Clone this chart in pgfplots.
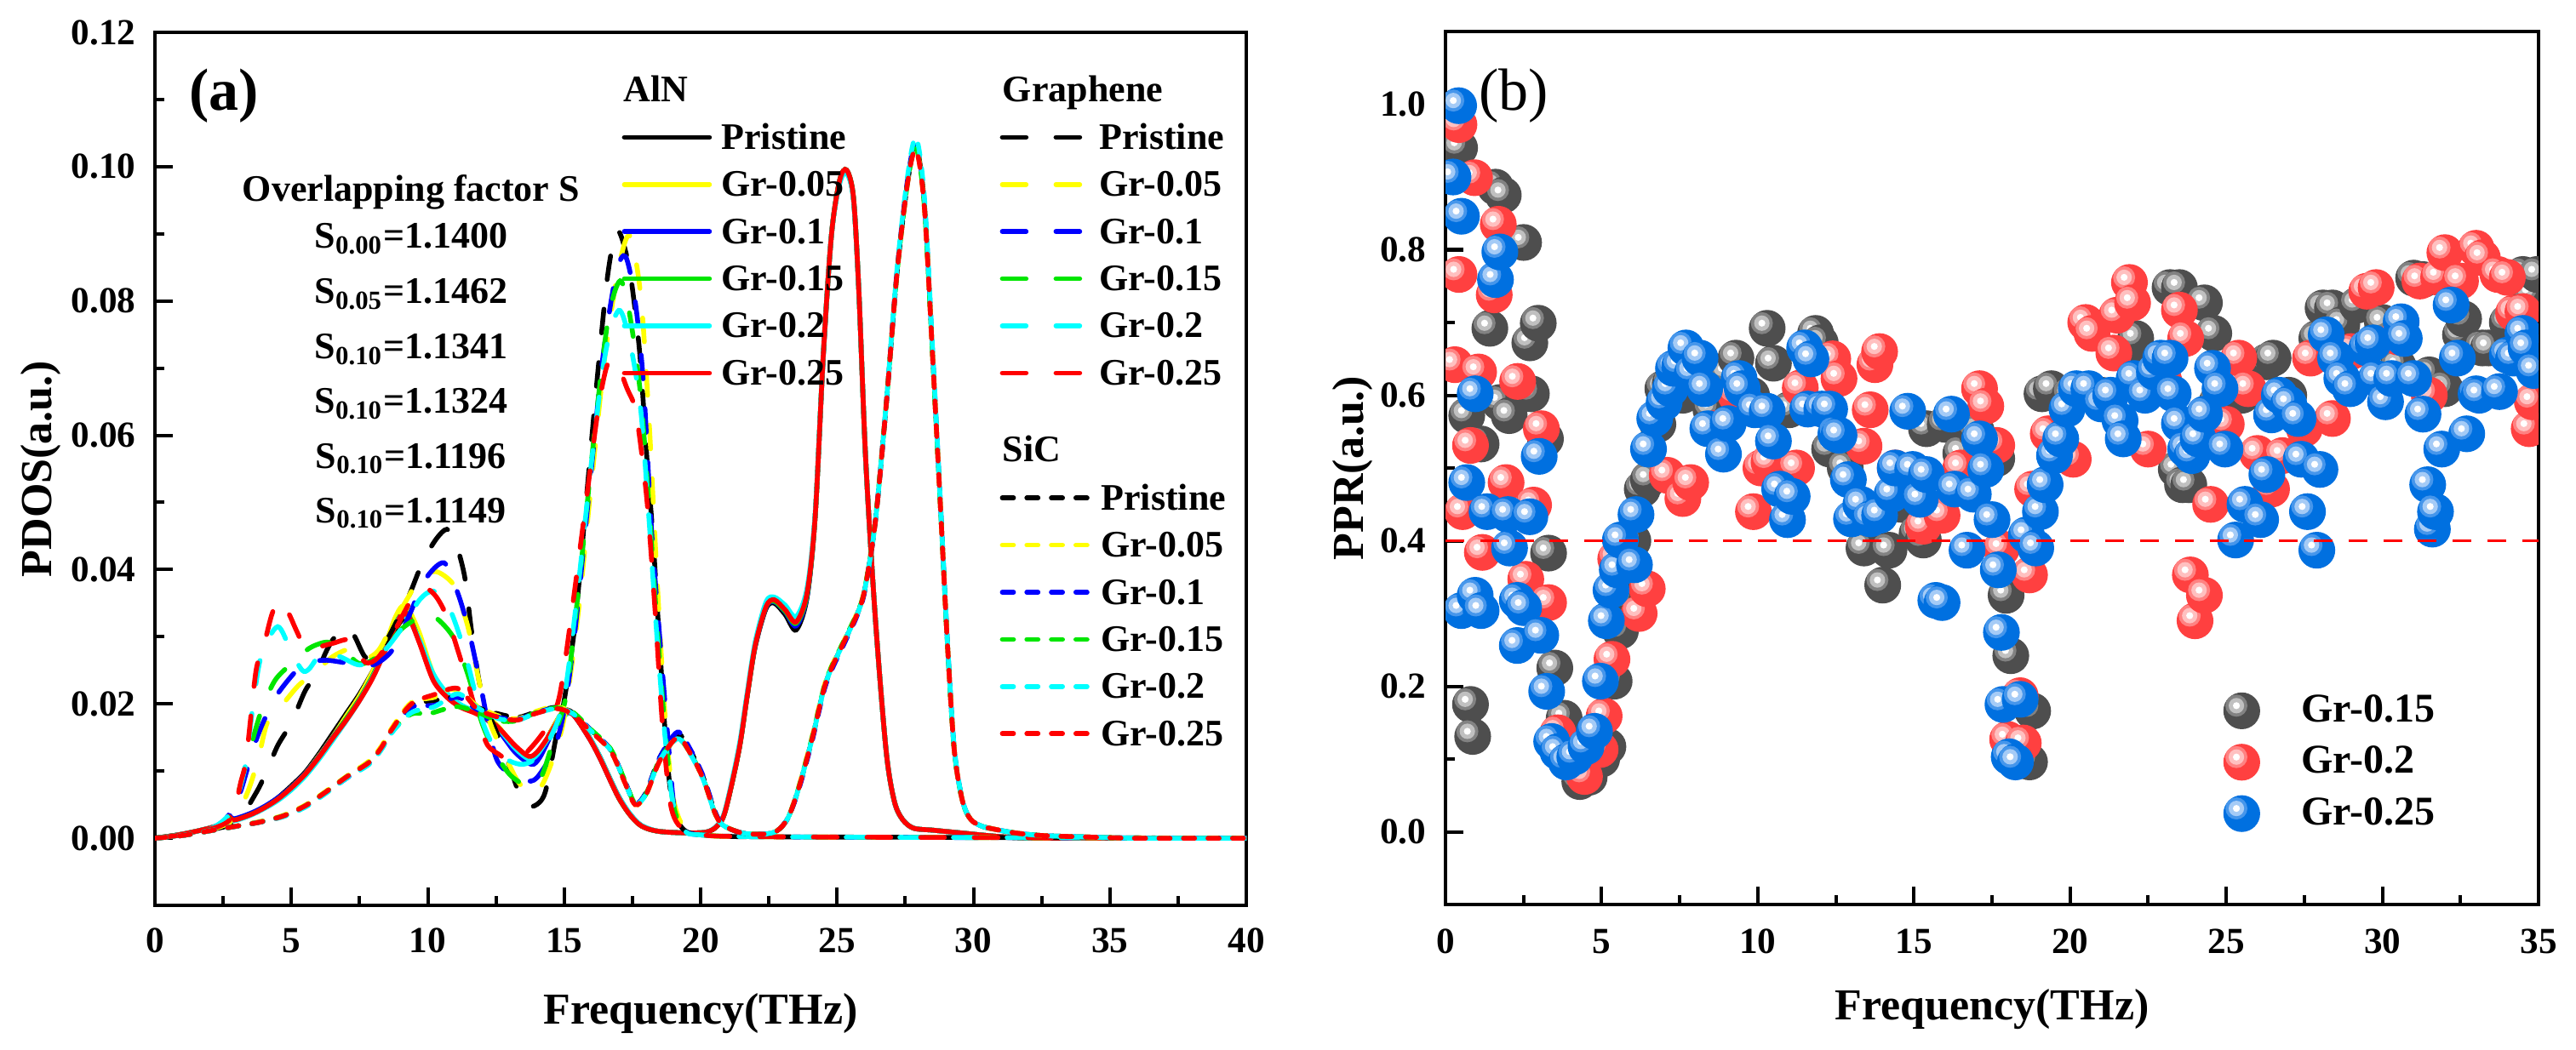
\documentclass[border=0pt]{standalone}
\usepackage{fontspec}
\setmainfont{Liberation Serif}
\usepackage{pgfplots}
\pgfplotsset{compat=1.18}
\usetikzlibrary{plotmarks}
\definecolor{cYel}{RGB}{255,255,0}
\definecolor{cBlu}{RGB}{0,0,255}
\definecolor{cGrn}{RGB}{0,230,0}
\definecolor{cCya}{RGB}{0,255,255}
\definecolor{cRed}{RGB}{255,0,0}
\definecolor{bG}{RGB}{78,78,78}\definecolor{bGm}{RGB}{130,130,130}\definecolor{bGl}{RGB}{192,192,192}
\definecolor{bR}{RGB}{255,64,64}\definecolor{bRm}{RGB}{255,130,130}\definecolor{bRl}{RGB}{255,192,192}
\definecolor{bB}{RGB}{0,112,224}\definecolor{bBm}{RGB}{70,150,235}\definecolor{bBl}{RGB}{165,203,246}
\pgfdeclareplotmark{ballG}{%
 \pgfsetfillcolor{bG}\pgfpathcircle{\pgfpointorigin}{\pgfplotmarksize}\pgfusepathqfill
 \pgfsetfillcolor{bGm}\pgfpathcircle{\pgfpoint{-0.29\pgfplotmarksize}{0.28\pgfplotmarksize}}{0.6\pgfplotmarksize}\pgfusepathqfill
 \pgfsetfillcolor{bGl}\pgfpathcircle{\pgfpoint{-0.29\pgfplotmarksize}{0.28\pgfplotmarksize}}{0.42\pgfplotmarksize}\pgfusepathqfill
 \pgfsetfillcolor{white}\pgfpathcircle{\pgfpoint{-0.29\pgfplotmarksize}{0.28\pgfplotmarksize}}{0.19\pgfplotmarksize}\pgfusepathqfill}
\pgfdeclareplotmark{ballR}{%
 \pgfsetfillcolor{bR}\pgfpathcircle{\pgfpointorigin}{\pgfplotmarksize}\pgfusepathqfill
 \pgfsetfillcolor{bRm}\pgfpathcircle{\pgfpoint{-0.29\pgfplotmarksize}{0.28\pgfplotmarksize}}{0.6\pgfplotmarksize}\pgfusepathqfill
 \pgfsetfillcolor{bRl}\pgfpathcircle{\pgfpoint{-0.29\pgfplotmarksize}{0.28\pgfplotmarksize}}{0.42\pgfplotmarksize}\pgfusepathqfill
 \pgfsetfillcolor{white}\pgfpathcircle{\pgfpoint{-0.29\pgfplotmarksize}{0.28\pgfplotmarksize}}{0.19\pgfplotmarksize}\pgfusepathqfill}
\pgfdeclareplotmark{ballB}{%
 \pgfsetfillcolor{bB}\pgfpathcircle{\pgfpointorigin}{\pgfplotmarksize}\pgfusepathqfill
 \pgfsetfillcolor{bBm}\pgfpathcircle{\pgfpoint{-0.29\pgfplotmarksize}{0.28\pgfplotmarksize}}{0.6\pgfplotmarksize}\pgfusepathqfill
 \pgfsetfillcolor{bBl}\pgfpathcircle{\pgfpoint{-0.29\pgfplotmarksize}{0.28\pgfplotmarksize}}{0.42\pgfplotmarksize}\pgfusepathqfill
 \pgfsetfillcolor{white}\pgfpathcircle{\pgfpoint{-0.29\pgfplotmarksize}{0.28\pgfplotmarksize}}{0.19\pgfplotmarksize}\pgfusepathqfill}
\newcommand{\fsL}{\fontsize{11}{13}\selectfont\bfseries}
\newcommand{\fsT}{\fontsize{10.8}{12}\selectfont\bfseries}
\newcommand{\fsX}{\fontsize{13}{15}\selectfont\bfseries}
\pgfplotsset{
 myframe/.style={scale only axis, anchor=south west,
  axis line style={line width=1pt}, every tick/.style={black, line width=1pt},
  tick align=inside, major tick length=5.2pt, minor tick length=2.7pt,
  xtick pos=bottom, ytick pos=left,
  tick label style={font=\fsT},
  /pgf/number format/assume math mode=true,
  xticklabel style={anchor=north, inner sep=0pt, yshift=-6.6pt},
  yticklabel style={anchor=east, inner sep=0pt, xshift=-5.5pt},
  label style={font=\fsX},
  scaled ticks=false},
 aln/.style={line width=1.4pt, smooth, tension=0.5},
 gra/.style={line width=1.4pt, smooth, tension=0.5, dash pattern=on 7pt off 8.75pt, line cap=round},
 sic/.style={line width=1.4pt, smooth, tension=0.5, dash pattern=on 3.3pt off 3.9pt, line cap=round},
 legA/.style={draw=none, fill=none, inner sep=0pt, row sep=2.85pt, column sep=0pt, font=\fsL,
  nodes={inner sep=0pt, text height=9pt, text depth=2pt}},
 ballleg/.style={legend image code/.code={\draw[##1] plot coordinates {(0pt,0pt)}; \path[draw=none, fill=none] (-5.4pt,-5.4pt) rectangle (17.5pt,5.4pt);}},
}
\begin{document}
\begin{tikzpicture}
\path[use as bounding box] (0,0) rectangle (756.5pt,308.25pt);
% ---------------- panel (a) ----------------
\begin{axis}[myframe, at={(45.5pt,42.25pt)}, width=320.5pt, height=256.5pt,
 xmin=0, xmax=40, ymin=-0.01, ymax=0.12,
 xtick={0,5,10,15,20,25,30,35,40}, minor xtick={2.5,7.5,12.5,17.5,22.5,27.5,32.5,37.5},
 ytick={0,0.02,0.04,0.06,0.08,0.1,0.12}, minor ytick={-0.01,0.01,0.03,0.05,0.07,0.09,0.11},
 yticklabel style={/pgf/number format/.cd, fixed, fixed zerofill, precision=2},
 xlabel={Frequency(THz)}, ylabel={PDOS(a.u.)},
 xlabel style={at={(axis description cs:0.5,-0.1238)}, anchor=center},
 ylabel style={at={(axis description cs:-0.1045,0.5)}, anchor=center}]
% AlN (solid)
\addplot[aln, black] coordinates {(0,0) (1,0.0006) (2,0.0015) (2.5,0.0022) (2.7,0.0033) (2.9,0.0027) (3.5,0.0035) (4,0.0046) (4.5,0.006) (5,0.0078) (5.5,0.0098) (6,0.0125) (6.5,0.0155) (7,0.0185) (7.5,0.0215) (8,0.025) (8.5,0.0288) (8.8,0.031) (9.05,0.0325) (9.3,0.0333) (9.6,0.031) (10.0,0.026) (10.5,0.022) (11.2,0.0197) (11.8,0.0187) (12.5,0.0168) (13.2,0.0135) (13.8,0.0115) (14.1,0.0125) (14.5,0.0158) (15.0,0.019) (15.4,0.0183) (15.9,0.0152) (16.3,0.0122) (16.7,0.0087) (17.0,0.0062) (17.35,0.0039) (17.7,0.0023) (18.0,0.0015) (18.5,0.001) (19.4,0.0008) (20.2,0.0009) (20.6,0.0018) (20.9,0.004) (21.4,0.013) (21.7,0.021) (22.0,0.0285) (22.4,0.0342) (22.7,0.035) (23.1,0.0333) (23.5,0.031) (23.9,0.0358) (24.2,0.048) (24.5,0.072) (24.8,0.09) (25.1,0.098) (25.35,0.0993) (25.6,0.0953) (25.8,0.0813) (26.05,0.0563) (26.4,0.033) (26.8,0.013) (27.1,0.0055) (27.4,0.0028) (27.8,0.0015) (28.5,0.0012) (29.5,0.0008) (30.5,0.0004) (31.5,0.0001) (33,0) (40,0)};
\addplot[aln, cYel] coordinates {(0,0) (1,0.0006) (2,0.0015) (2.5,0.0022) (2.7,0.0032) (2.9,0.0027) (3.5,0.0035) (4,0.0045) (4.5,0.0058) (5,0.0076) (5.5,0.0096) (6,0.0122) (6.5,0.015) (7,0.0181) (7.5,0.0212) (8,0.025) (8.5,0.0295) (8.8,0.0328) (9.05,0.0345) (9.3,0.034) (9.7,0.0305) (10.2,0.0245) (10.7,0.0215) (11.2,0.0198) (11.8,0.0188) (12.5,0.017) (13.2,0.0135) (13.7,0.0118) (14.0,0.0122) (14.4,0.015) (14.9,0.0185) (15.3,0.0185) (15.9,0.015) (16.3,0.012) (16.7,0.0085) (17.0,0.006) (17.35,0.0038) (17.7,0.0022) (18.0,0.0015) (18.5,0.001) (19.4,0.0008) (20.2,0.0009) (20.6,0.0018) (20.9,0.004) (21.4,0.013) (21.7,0.021) (22.0,0.0287) (22.4,0.0345) (22.7,0.0354) (23.1,0.034) (23.5,0.0322) (23.9,0.0365) (24.2,0.048) (24.5,0.0723) (24.8,0.09) (25.1,0.098) (25.35,0.0995) (25.6,0.0955) (25.8,0.0815) (26.05,0.0565) (26.4,0.033) (26.8,0.013) (27.1,0.0055) (27.4,0.0028) (27.8,0.0015) (28.5,0.0012) (29.5,0.0008) (30.5,0.0004) (31.5,0.0001) (33,0) (40,0)};
\addplot[aln, cBlu] coordinates {(0,0) (1,0.0006) (2,0.0015) (2.5,0.0023) (2.7,0.0034) (2.9,0.0029) (3.5,0.0037) (4,0.0047) (4.5,0.006) (5,0.0076) (5.5,0.0096) (6,0.0121) (6.5,0.0149) (7,0.0177) (7.5,0.0207) (8,0.0243) (8.5,0.0287) (8.8,0.0316) (9.05,0.0331) (9.3,0.033) (9.7,0.0292) (10.2,0.0237) (10.7,0.0211) (11.2,0.0196) (11.8,0.0186) (12.5,0.0165) (13.2,0.0128) (13.8,0.011) (14.1,0.012) (14.5,0.0152) (14.9,0.0182) (15.3,0.0185) (15.9,0.015) (16.3,0.012) (16.7,0.0085) (17.0,0.006) (17.35,0.0038) (17.7,0.0022) (18.0,0.0015) (18.5,0.001) (19.4,0.0008) (20.2,0.0009) (20.6,0.0018) (20.9,0.004) (21.4,0.013) (21.7,0.021) (22.0,0.0286) (22.4,0.0344) (22.7,0.0352) (23.1,0.0337) (23.5,0.0316) (23.9,0.036) (24.2,0.048) (24.5,0.0722) (24.8,0.09) (25.1,0.098) (25.35,0.0995) (25.6,0.0955) (25.8,0.0815) (26.05,0.0565) (26.4,0.033) (26.8,0.013) (27.1,0.0055) (27.4,0.0028) (27.8,0.0015) (28.5,0.0012) (29.5,0.0008) (30.5,0.0004) (31.5,0.0001) (33,0) (40,0)};
\addplot[aln, cGrn] coordinates {(0,0) (1,0.0006) (2,0.0015) (2.5,0.0022) (2.7,0.0032) (2.9,0.0027) (3.5,0.0035) (4,0.0045) (4.5,0.0058) (5,0.0075) (5.5,0.0095) (6,0.012) (6.5,0.0148) (7,0.0177) (7.5,0.0207) (8,0.0243) (8.5,0.0288) (8.8,0.0318) (9.05,0.0334) (9.3,0.0332) (9.7,0.0293) (10.2,0.0237) (10.7,0.0211) (11.2,0.0196) (11.8,0.0186) (12.5,0.0168) (13.2,0.0136) (13.7,0.012) (14.0,0.0126) (14.4,0.0148) (14.9,0.0178) (15.3,0.0186) (15.9,0.0151) (16.3,0.0121) (16.7,0.0086) (17.0,0.006) (17.35,0.0038) (17.7,0.0022) (18.0,0.0015) (18.5,0.001) (19.4,0.0008) (20.2,0.0009) (20.6,0.0018) (20.9,0.004) (21.4,0.013) (21.7,0.021) (22.0,0.0287) (22.4,0.0345) (22.7,0.0353) (23.1,0.0338) (23.5,0.032) (23.9,0.0362) (24.2,0.048) (24.5,0.0723) (24.8,0.09) (25.1,0.098) (25.35,0.0995) (25.6,0.0955) (25.8,0.0815) (26.05,0.0565) (26.4,0.033) (26.8,0.013) (27.1,0.0055) (27.4,0.0028) (27.8,0.0015) (28.5,0.0012) (29.5,0.0008) (30.5,0.0004) (31.5,0.0001) (33,0) (40,0)};
\addplot[aln, cCya] coordinates {(0,0) (1,0.0006) (2,0.0015) (2.5,0.0022) (2.7,0.0031) (2.9,0.0026) (3.5,0.0034) (4,0.0044) (4.5,0.0056) (5,0.0072) (5.5,0.0092) (6,0.0117) (6.5,0.0145) (7,0.0174) (7.5,0.0205) (8,0.0241) (8.5,0.0286) (8.8,0.0316) (9.0,0.033) (9.3,0.0326) (9.7,0.0295) (10.2,0.0245) (10.7,0.0216) (11.2,0.0199) (11.8,0.0187) (12.5,0.0167) (13.2,0.0134) (13.7,0.0118) (14.0,0.0124) (14.4,0.0148) (14.9,0.0178) (15.3,0.0186) (15.9,0.0152) (16.3,0.0122) (16.7,0.0087) (17.0,0.0062) (17.35,0.004) (17.7,0.0023) (18.0,0.0016) (18.5,0.001) (19.4,0.0008) (20.2,0.0009) (20.6,0.0019) (20.9,0.0042) (21.4,0.0135) (21.7,0.0215) (22.0,0.0292) (22.4,0.0352) (22.7,0.0359) (23.1,0.0347) (23.5,0.033) (23.9,0.0372) (24.2,0.0485) (24.5,0.0725) (24.8,0.09) (25.1,0.0975) (25.35,0.099) (25.6,0.0952) (25.8,0.0815) (26.05,0.0565) (26.4,0.033) (26.8,0.013) (27.1,0.0055) (27.4,0.0028) (27.8,0.0015) (28.5,0.0012) (29.5,0.0008) (30.5,0.0004) (31.5,0.0001) (33,0) (40,0)};
\addplot[aln, cRed] coordinates {(0,0) (1,0.0006) (2,0.0015) (2.5,0.0022) (2.7,0.0032) (2.9,0.0027) (3.5,0.0035) (4,0.0045) (4.5,0.0058) (5,0.0075) (5.5,0.0095) (6,0.012) (6.5,0.0148) (7,0.0175) (7.5,0.0205) (8,0.024) (8.5,0.0285) (8.8,0.0315) (9.05,0.0333) (9.3,0.033) (9.7,0.029) (10.2,0.0235) (10.7,0.021) (11.2,0.0195) (11.8,0.0185) (12.5,0.0168) (13.2,0.0138) (13.7,0.0122) (14.0,0.0128) (14.4,0.015) (14.9,0.0182) (15.3,0.0185) (15.9,0.015) (16.3,0.012) (16.7,0.0085) (17.0,0.006) (17.35,0.0038) (17.7,0.0022) (18.0,0.0015) (18.5,0.001) (19.4,0.0008) (20.2,0.0009) (20.6,0.0018) (20.9,0.004) (21.4,0.013) (21.7,0.021) (22.0,0.0287) (22.4,0.0345) (22.7,0.0355) (23.1,0.034) (23.5,0.0322) (23.9,0.0365) (24.2,0.048) (24.5,0.0723) (24.8,0.09) (25.1,0.098) (25.35,0.0995) (25.6,0.0955) (25.8,0.0815) (26.05,0.0565) (26.4,0.033) (26.8,0.013) (27.1,0.0055) (27.4,0.0028) (27.8,0.0015) (28.5,0.0012) (29.5,0.0008) (30.5,0.0004) (31.5,0.0001) (33,0) (40,0)};
% Graphene (long dash)
\addplot[gra, black] coordinates {(0,0) (1,0.0005) (2,0.0012) (3,0.0025) (3.7,0.0067) (4.1,0.01) (4.5,0.0138) (5,0.0172) (5.5,0.0219) (5.9,0.0244) (6.3,0.028) (6.6,0.03) (7.0,0.0314) (7.3,0.0302) (7.7,0.027) (8.1,0.0268) (8.7,0.031) (9.3,0.036) (9.8,0.041) (10.3,0.0445) (10.7,0.046) (11.0,0.0443) (11.35,0.039) (11.6,0.031) (11.9,0.023) (12.2,0.019) (12.7,0.014) (13.1,0.0095) (13.5,0.0052) (13.9,0.0048) (14.3,0.0068) (14.7,0.015) (15.0,0.0205) (15.4,0.032) (15.8,0.05) (16.2,0.068) (16.6,0.084) (16.95,0.0905) (17.35,0.0857) (17.6,0.0786) (17.8,0.0707) (18.05,0.0555) (18.25,0.045) (18.5,0.0287) (18.75,0.013) (19.0,0.0043) (19.4,0.0012) (20,0.0005) (21,0.0003) (23,0.0002) (40,0)};
\addplot[gra, cYel] coordinates {(0,0) (1,0.0005) (2,0.0012) (2.8,0.0025) (3.2,0.005) (3.5,0.008) (3.8,0.012) (4.1,0.017) (4.5,0.019) (5.25,0.0227) (5.8,0.0244) (6.5,0.027) (7.2,0.0282) (7.7,0.0268) (8.2,0.028) (8.8,0.0325) (9.3,0.036) (9.7,0.0387) (10.3,0.0397) (10.9,0.038) (11.2,0.035) (11.5,0.031) (11.9,0.023) (12.3,0.017) (12.8,0.0125) (13.3,0.0085) (13.8,0.0065) (14.2,0.008) (14.6,0.012) (15.0,0.018) (15.5,0.033) (16.0,0.053) (16.5,0.072) (17.0,0.085) (17.4,0.0897) (17.8,0.081) (18.1,0.063) (18.4,0.039) (18.7,0.018) (19.0,0.006) (19.4,0.0015) (20,0.0005) (23,0.0002) (40,0)};
\addplot[gra, cBlu] coordinates {(0,0) (1,0.0005) (2,0.0013) (2.7,0.0028) (3.1,0.0065) (3.4,0.0105) (3.7,0.0145) (4.05,0.018) (4.5,0.0215) (5.2,0.025) (5.7,0.0262) (6.3,0.0265) (7.2,0.026) (8.0,0.0258) (8.7,0.028) (9.3,0.033) (9.9,0.0385) (10.6,0.041) (11.1,0.0365) (11.5,0.031) (11.9,0.0235) (12.5,0.012) (13.2,0.0092) (13.6,0.0085) (14.0,0.009) (14.6,0.013) (15.0,0.019) (15.4,0.031) (15.9,0.051) (16.4,0.071) (16.9,0.084) (17.25,0.0866) (17.6,0.08) (17.9,0.068) (18.2,0.046) (18.5,0.03) (18.8,0.015) (19.05,0.004) (19.4,0.0012) (20,0.0005) (23,0.0002) (40,0)};
\addplot[gra, cGrn] coordinates {(0,0) (1,0.0005) (2,0.0013) (2.7,0.003) (3.0,0.006) (3.4,0.012) (3.9,0.019) (4.4,0.0235) (5.0,0.026) (5.5,0.0278) (5.8,0.0286) (6.3,0.0292) (6.8,0.0285) (7.5,0.026) (8.2,0.0272) (9.0,0.031) (9.5,0.0325) (9.85,0.0335) (10.4,0.0325) (11.0,0.0295) (11.5,0.024) (12.0,0.017) (12.5,0.0125) (13.0,0.0095) (13.5,0.008) (13.8,0.0078) (14.2,0.0095) (14.7,0.016) (15.1,0.022) (15.6,0.04) (16.1,0.06) (16.6,0.077) (17.05,0.083) (17.4,0.078) (17.8,0.066) (18.1,0.05) (18.4,0.032) (18.7,0.016) (19.0,0.005) (19.4,0.0012) (20,0.0005) (23,0.0002) (40,0)};
\addplot[gra, cCya] coordinates {(0,0) (1,0.0005) (2,0.0013) (2.8,0.004) (3.3,0.0105) (3.6,0.02) (3.9,0.0272) (4.5,0.0315) (5.0,0.0277) (5.4,0.025) (5.65,0.0252) (6.15,0.0277) (6.8,0.027) (7.5,0.0258) (8.2,0.027) (9.0,0.031) (9.7,0.0355) (10.2,0.0368) (10.7,0.035) (11.1,0.031) (11.5,0.0255) (12.0,0.0175) (12.5,0.013) (13.0,0.0115) (13.5,0.011) (14.0,0.012) (14.5,0.015) (15.0,0.021) (15.5,0.037) (16.0,0.056) (16.5,0.072) (17.0,0.0786) (17.4,0.074) (17.8,0.064) (18.1,0.048) (18.4,0.03) (18.7,0.015) (19.0,0.005) (19.4,0.0012) (20,0.0005) (23,0.0002) (40,0)};
\addplot[gra, cRed] coordinates {(0,0) (1,0.0005) (2,0.0013) (2.8,0.003) (3.15,0.0084) (3.35,0.012) (3.7,0.0248) (3.95,0.028) (4.3,0.0335) (4.6,0.0353) (4.9,0.0335) (5.2,0.0308) (5.5,0.0285) (6.0,0.0285) (6.5,0.029) (7.2,0.0295) (7.7,0.0262) (8.2,0.027) (8.8,0.031) (9.4,0.0355) (9.9,0.0372) (10.3,0.036) (10.7,0.033) (11.1,0.028) (11.5,0.0227) (11.9,0.017) (12.2,0.0138) (12.6,0.0125) (12.9,0.0118) (13.4,0.012) (14.0,0.0145) (14.5,0.0175) (14.85,0.0216) (15.25,0.0328) (15.8,0.05) (16.25,0.064) (16.6,0.0707) (16.95,0.0705) (17.3,0.067) (17.6,0.064) (17.85,0.057) (18.07,0.0486) (18.35,0.0328) (18.6,0.017) (18.9,0.005) (19.3,0.0015) (20,0.0005) (23,0.0002) (40,0)};
% SiC (short dash)
\addplot[sic, black] coordinates {(0,0) (1,0.0004) (2,0.0011) (3,0.0018) (3.85,0.0024) (4.7,0.0033) (5.5,0.0048) (6.2,0.0067) (7.05,0.0092) (7.85,0.0113) (8.3,0.0135) (8.7,0.0163) (9.4,0.0198) (10.25,0.0205) (11.1,0.021) (11.8,0.0195) (12.6,0.0185) (13.3,0.018) (13.9,0.0187) (14.7,0.0195) (15.3,0.0187) (15.95,0.0162) (16.7,0.0132) (17.2,0.0087) (17.6,0.0052) (18.0,0.0068) (18.5,0.012) (19.15,0.0155) (19.6,0.0132) (20.1,0.009) (20.5,0.0042) (20.8,0.002) (21.5,0.0008) (22.3,0.0006) (22.8,0.0011) (23.2,0.003) (23.6,0.0075) (24.1,0.015) (24.6,0.0233) (25.3,0.0296) (25.7,0.033) (26.0,0.0367) (26.4,0.047) (26.8,0.0644) (27.2,0.0842) (27.6,0.098) (27.9,0.103) (28.2,0.0945) (28.5,0.072) (28.8,0.0486) (29.05,0.0287) (29.3,0.013) (29.6,0.0055) (29.9,0.0028) (30.3,0.0018) (30.7,0.0014) (31.5,0.0008) (32.5,0.0004) (34,0.0002) (36,0) (40,0)};
\addplot[sic, cYel] coordinates {(0,0) (1,0.0004) (2,0.0011) (3,0.0018) (3.85,0.0025) (4.7,0.0034) (5.5,0.0049) (6.2,0.0068) (7.05,0.0093) (7.85,0.0115) (8.3,0.0137) (8.7,0.0165) (9.4,0.0202) (10.25,0.021) (10.8,0.0222) (11.3,0.0215) (11.8,0.0197) (12.6,0.0182) (13.3,0.0178) (13.9,0.0188) (14.7,0.0196) (15.3,0.0186) (15.95,0.016) (16.7,0.013) (17.2,0.0085) (17.6,0.005) (18.0,0.0065) (18.5,0.0115) (19.15,0.015) (19.6,0.0128) (20.1,0.0088) (20.5,0.004) (20.8,0.002) (21.5,0.0008) (22.3,0.0006) (22.8,0.0011) (23.2,0.003) (23.6,0.0077) (24.1,0.0153) (24.6,0.0236) (25.3,0.0298) (25.7,0.0332) (26.0,0.0368) (26.4,0.047) (26.8,0.0644) (27.2,0.0842) (27.6,0.098) (27.9,0.1027) (28.2,0.094) (28.5,0.072) (28.8,0.0486) (29.05,0.0287) (29.3,0.013) (29.6,0.0055) (29.9,0.0028) (30.3,0.0018) (30.7,0.0014) (31.5,0.0008) (32.5,0.0004) (34,0.0002) (36,0) (40,0)};
\addplot[sic, cBlu] coordinates {(0,0) (1,0.0004) (2,0.0011) (3,0.0018) (3.85,0.0024) (4.7,0.0033) (5.5,0.0047) (6.2,0.0066) (7.05,0.009) (7.85,0.0111) (8.3,0.0133) (8.7,0.016) (9.4,0.0195) (10.25,0.0198) (11.1,0.021) (11.8,0.0192) (12.6,0.018) (13.3,0.0177) (13.9,0.0186) (14.7,0.0194) (15.3,0.0186) (15.95,0.0162) (16.7,0.0132) (17.2,0.0087) (17.6,0.0052) (18.0,0.0068) (18.5,0.012) (19.15,0.0158) (19.6,0.0134) (20.1,0.0092) (20.5,0.0043) (20.8,0.002) (21.5,0.0008) (22.3,0.0006) (22.8,0.0011) (23.2,0.003) (23.6,0.0073) (24.1,0.0147) (24.6,0.023) (25.3,0.0293) (25.7,0.0328) (26.0,0.0365) (26.4,0.047) (26.8,0.0644) (27.2,0.0845) (27.6,0.0985) (27.9,0.1035) (28.2,0.0948) (28.5,0.0725) (28.8,0.049) (29.05,0.029) (29.3,0.0132) (29.6,0.0056) (29.9,0.0028) (30.3,0.0018) (30.7,0.0014) (31.5,0.0008) (32.5,0.0004) (34,0.0002) (36,0) (40,0)};
\addplot[sic, cGrn] coordinates {(0,0) (1,0.0004) (2,0.0011) (3,0.0018) (3.85,0.0024) (4.7,0.0033) (5.5,0.0048) (6.2,0.0067) (7.05,0.0092) (7.85,0.0113) (8.3,0.0134) (8.7,0.016) (9.4,0.0185) (10.0,0.0185) (10.6,0.0192) (11.1,0.0196) (11.8,0.0188) (12.6,0.0175) (13.3,0.0175) (13.9,0.0186) (14.7,0.0194) (15.3,0.0188) (15.95,0.0163) (16.7,0.0133) (17.2,0.0088) (17.6,0.0052) (18.0,0.0066) (18.5,0.0117) (19.15,0.0148) (19.6,0.0128) (20.1,0.0088) (20.5,0.004) (20.8,0.002) (21.5,0.0008) (22.3,0.0006) (22.8,0.0011) (23.2,0.003) (23.6,0.0076) (24.1,0.0152) (24.6,0.0235) (25.3,0.0298) (25.7,0.0332) (26.0,0.0368) (26.4,0.0472) (26.8,0.0645) (27.2,0.0842) (27.6,0.098) (27.9,0.1028) (28.2,0.0942) (28.5,0.072) (28.8,0.0486) (29.05,0.0287) (29.3,0.013) (29.6,0.0055) (29.9,0.0028) (30.3,0.0018) (30.7,0.0014) (31.5,0.0008) (32.5,0.0004) (34,0.0002) (36,0) (40,0)};
\addplot[sic, cCya] coordinates {(0,0) (1,0.0004) (2,0.0011) (3,0.0018) (3.85,0.0024) (4.7,0.0032) (5.5,0.0046) (6.2,0.0065) (7.05,0.009) (7.85,0.011) (8.3,0.0132) (8.7,0.0158) (9.4,0.0187) (10.25,0.0196) (11.1,0.0215) (11.8,0.0195) (12.6,0.0178) (13.3,0.0176) (13.9,0.0185) (14.7,0.0193) (15.3,0.0186) (15.95,0.0161) (16.7,0.0131) (17.2,0.0086) (17.6,0.0051) (18.0,0.0066) (18.5,0.0116) (19.15,0.0148) (19.6,0.0127) (20.1,0.0087) (20.5,0.004) (20.8,0.002) (21.5,0.0008) (22.3,0.0006) (22.8,0.0011) (23.2,0.003) (23.6,0.0075) (24.1,0.015) (24.6,0.0233) (25.3,0.0296) (25.7,0.033) (26.0,0.0367) (26.4,0.047) (26.8,0.0646) (27.2,0.0848) (27.6,0.099) (27.9,0.1043) (28.2,0.0955) (28.5,0.073) (28.8,0.049) (29.05,0.029) (29.3,0.0132) (29.6,0.0056) (29.9,0.0028) (30.3,0.0018) (30.7,0.0014) (31.5,0.0008) (32.5,0.0004) (34,0.0002) (36,0) (40,0)};
\addplot[sic, cRed] coordinates {(0,0) (1,0.0004) (2,0.0011) (3,0.0018) (3.85,0.0024) (4.7,0.0033) (5.5,0.0048) (6.2,0.0067) (7.05,0.0092) (7.85,0.0113) (8.3,0.0135) (8.7,0.0163) (9.4,0.02) (10.25,0.0214) (11.1,0.0223) (11.8,0.0193) (12.6,0.018) (13.3,0.0176) (13.9,0.0185) (14.7,0.0193) (15.3,0.0185) (15.95,0.016) (16.7,0.013) (17.2,0.0085) (17.6,0.005) (18.0,0.0065) (18.5,0.0115) (19.15,0.015) (19.6,0.0128) (20.1,0.0088) (20.5,0.004) (20.8,0.002) (21.5,0.0008) (22.3,0.0006) (22.8,0.0011) (23.2,0.003) (23.6,0.0075) (24.1,0.015) (24.6,0.0233) (25.3,0.0296) (25.7,0.033) (26.0,0.0367) (26.4,0.047) (26.8,0.0644) (27.2,0.0842) (27.6,0.098) (27.9,0.1025) (28.2,0.094) (28.5,0.072) (28.8,0.0486) (29.05,0.0287) (29.3,0.013) (29.6,0.0055) (29.9,0.0028) (30.3,0.0018) (30.7,0.0014) (31.5,0.0008) (32.5,0.0004) (34,0.0002) (36,0) (40,0)};
% texts
\node[font=\fontsize{17.5}{20}\selectfont\bfseries, anchor=center] at (axis cs:2.53,0.1105) {(a)};
\node[font=\fsL, anchor=base] at (axis cs:9.39,0.0948) {Overlapping factor S};
\node[font=\fsL, anchor=base] at (axis cs:9.39,0.08785) {S\textsubscript{0.00}=1.1400};
\node[font=\fsL, anchor=base] at (axis cs:9.39,0.0796) {S\textsubscript{0.05}=1.1462};
\node[font=\fsL, anchor=base] at (axis cs:9.39,0.0714) {S\textsubscript{0.10}=1.1341};
\node[font=\fsL, anchor=base] at (axis cs:9.39,0.0633) {S\textsubscript{0.10}=1.1324};
\node[font=\fsL, anchor=base] at (axis cs:9.39,0.0551) {S\textsubscript{0.10}=1.1196};
\node[font=\fsL, anchor=base] at (axis cs:9.39,0.0470) {S\textsubscript{0.10}=1.1149};
\node[font=\fsL, anchor=base west, inner sep=0pt] at (axis cs:17.16,0.1097) {AlN};
\node[font=\fsL, anchor=base west, inner sep=0pt] at (axis cs:31.05,0.1097) {Graphene};
\node[font=\fsL, anchor=base west, inner sep=0pt] at (axis cs:31.05,0.05614) {SiC};
\end{axis}
% legend AlN
\begin{axis}[scale only axis, anchor=south west, at={(45.5pt,42.25pt)}, width=320.5pt, height=256.5pt,
 hide axis, xmin=0, xmax=1, ymin=0, ymax=1, legend cell align=left,
 legend style={legA, at={(0.4273,0.902)}, anchor=north west},
 legend image code/.code={\draw[#1, line cap=round] (0pt,0pt) -- (25pt,0pt); \path[draw=none, fill=none] (0pt,0pt) -- (28.5pt,0pt);}]
\addlegendimage{line width=1.4pt, black}\addlegendentry{Pristine}
\addlegendimage{line width=1.4pt, cYel}\addlegendentry{Gr-0.05}
\addlegendimage{line width=1.4pt, cBlu}\addlegendentry{Gr-0.1}
\addlegendimage{line width=1.4pt, cGrn}\addlegendentry{Gr-0.15}
\addlegendimage{line width=1.4pt, cCya}\addlegendentry{Gr-0.2}
\addlegendimage{line width=1.4pt, cRed}\addlegendentry{Gr-0.25}
\end{axis}
% legend Graphene
\begin{axis}[scale only axis, anchor=south west, at={(45.5pt,42.25pt)}, width=320.5pt, height=256.5pt,
 hide axis, xmin=0, xmax=1, ymin=0, ymax=1, legend cell align=left,
 legend style={legA, at={(0.7736,0.902)}, anchor=north west},
 legend image code/.code={\draw[#1] (0pt,0pt) -- (22.75pt,0pt); \path[draw=none, fill=none] (0pt,0pt) -- (28.5pt,0pt);}]
\addlegendimage{line width=1.4pt, dash pattern=on 7pt off 8.75pt, line cap=round, black}\addlegendentry{Pristine}
\addlegendimage{line width=1.4pt, dash pattern=on 7pt off 8.75pt, line cap=round, cYel}\addlegendentry{Gr-0.05}
\addlegendimage{line width=1.4pt, dash pattern=on 7pt off 8.75pt, line cap=round, cBlu}\addlegendentry{Gr-0.1}
\addlegendimage{line width=1.4pt, dash pattern=on 7pt off 8.75pt, line cap=round, cGrn}\addlegendentry{Gr-0.15}
\addlegendimage{line width=1.4pt, dash pattern=on 7pt off 8.75pt, line cap=round, cCya}\addlegendentry{Gr-0.2}
\addlegendimage{line width=1.4pt, dash pattern=on 7pt off 8.75pt, line cap=round, cRed}\addlegendentry{Gr-0.25}
\end{axis}
% legend SiC
\begin{axis}[scale only axis, anchor=south west, at={(45.5pt,42.25pt)}, width=320.5pt, height=256.5pt,
 hide axis, xmin=0, xmax=1, ymin=0, ymax=1, legend cell align=left,
 legend style={legA, at={(0.7736,0.4888)}, anchor=north west},
 legend image code/.code={\draw[#1] (0pt,0pt) -- (24.9pt,0pt); \path[draw=none, fill=none] (0pt,0pt) -- (29pt,0pt);}]
\addlegendimage{line width=1.4pt, dash pattern=on 3.3pt off 3.9pt, line cap=round, black}\addlegendentry{Pristine}
\addlegendimage{line width=1.4pt, dash pattern=on 3.3pt off 3.9pt, line cap=round, cYel}\addlegendentry{Gr-0.05}
\addlegendimage{line width=1.4pt, dash pattern=on 3.3pt off 3.9pt, line cap=round, cBlu}\addlegendentry{Gr-0.1}
\addlegendimage{line width=1.4pt, dash pattern=on 3.3pt off 3.9pt, line cap=round, cGrn}\addlegendentry{Gr-0.15}
\addlegendimage{line width=1.4pt, dash pattern=on 3.3pt off 3.9pt, line cap=round, cCya}\addlegendentry{Gr-0.2}
\addlegendimage{line width=1.4pt, dash pattern=on 3.3pt off 3.9pt, line cap=round, cRed}\addlegendentry{Gr-0.25}
\end{axis}
% ---------------- panel (b) ----------------
\begin{axis}[myframe, at={(424.5pt,42.5pt)}, width=321pt, height=256.5pt,
 xmin=0, xmax=35, ymin=-0.1, ymax=1.1,
 xtick={0,5,10,15,20,25,30,35}, minor xtick={2.5,7.5,12.5,17.5,22.5,27.5,32.5},
 ytick={0,0.2,0.4,0.6,0.8,1.0}, minor ytick={0.1,0.3,0.5,0.7,0.9},
 yticklabel style={/pgf/number format/.cd, fixed, fixed zerofill, precision=1},
 xticklabel style={yshift=-0.5pt},
 xlabel={Frequency(THz)}, ylabel={PPR(a.u.)},
 xlabel style={at={(axis description cs:0.5,-0.12)}, anchor=center},
 ylabel style={at={(axis description cs:-0.085,0.5)}, anchor=center},
 clip marker paths=true,
 legend cell align=left,
 ballleg,
 legend style={draw=none, fill=none, inner sep=0pt, row sep=4.3pt, column sep=0pt,
  font=\fontsize{12}{14}\selectfont\bfseries, at={(0.711,0.2437)}, anchor=north west,
  nodes={inner sep=0pt}}]
\addplot[only marks, mark=ballG, mark size=5.4pt, ballleg] table {
0.33 0.946
0.45 0.94
0.68 0.572
0.8 0.175
0.87 0.131
1.14 0.533
1.42 0.692
1.6 0.886
1.74 0.59
1.85 0.875
2.04 0.572
2.5 0.81
2.7 0.672
2.75 0.602
2.97 0.699
3.2 0.54
3.3 0.383
3.5 0.225
3.8 0.156
4.0 0.10
4.3 0.069
4.6 0.075
5.0 0.10
5.2 0.117
5.4 0.207
5.6 0.276
5.7 0.318
6.0 0.40
6.3 0.471
6.5 0.484
6.8 0.56
6.96 0.609
7.2 0.616
7.6 0.60
8.0 0.62
8.5 0.58
9.0 0.63
9.3 0.651
9.8 0.60
10.3 0.692
10.5 0.644
11.0 0.58
11.85 0.685
12.0 0.672
12.3 0.526
12.8 0.50
13.4 0.39
14.0 0.339
14.2 0.387
14.6 0.45
15.1 0.41
15.3 0.401
15.4 0.554
16.0 0.56
16.5 0.52
17.0 0.55
17.65 0.513
17.95 0.325
18.1 0.242
18.7 0.096
18.8 0.166
19.1 0.602
19.4 0.609
20.0 0.60
21.0 0.60
21.9 0.66
22.1 0.678
22.7 0.62
23.2 0.748
23.4 0.498
23.5 0.748
23.6 0.477
23.8 0.477
24.3 0.727
24.6 0.685
24.7 0.59
25.5 0.60
26.3 0.646
26.5 0.651
27.0 0.60
27.9 0.678
28.1 0.72
28.4 0.72
28.7 0.697
29.2 0.724
30.0 0.70
30.5 0.64
31.0 0.761
31.3 0.759
31.5 0.628
32.0 0.609
32.5 0.683
32.6 0.705
33.2 0.665
33.4 0.665
34.0 0.70
34.5 0.766
34.75 0.738
34.95 0.766
};
\addlegendentry{Gr-0.15}
\addplot[only marks, mark=ballR, mark size=5.4pt, ballleg] table {
0.3 0.642
0.43 0.972
0.43 0.766
0.55 0.44
0.8 0.531
0.93 0.899
1.06 0.632
1.18 0.384
1.56 0.738
1.69 0.835
1.94 0.48
2.31 0.619
2.57 0.347
2.82 0.449
3.07 0.554
3.3 0.315
3.6 0.136
4.0 0.10
4.45 0.076
4.95 0.113
5.08 0.159
5.33 0.237
5.45 0.375
6.2 0.30
6.46 0.334
7.1 0.49
7.6 0.458
7.85 0.48
8.6 0.554
9.3 0.60
9.86 0.44
10.1 0.5
10.36 0.508
11.24 0.5
11.36 0.61
12.4 0.65
12.6 0.623
13.4 0.53
13.6 0.58
13.75 0.642
13.9 0.66
14.4 0.5
15.3 0.42
15.9 0.435
16.5 0.50
17.1 0.609
17.3 0.585
17.65 0.531
17.8 0.389
18.0 0.127
18.4 0.187
18.5 0.122
18.7 0.353
18.8 0.471
19.3 0.547
20.1 0.512
20.5 0.70
20.7 0.685
21.4 0.658
21.5 0.71
21.9 0.755
22.0 0.727
22.5 0.526
23.0 0.62
23.5 0.717
23.7 0.678
23.85 0.353
24.0 0.29
24.3 0.325
24.5 0.45
25.0 0.56
25.4 0.651
25.7 0.609
26.0 0.52
26.45 0.471
26.8 0.517
27.5 0.554
27.7 0.651
28.4 0.568
29.0 0.66
29.5 0.743
29.8 0.748
30.5 0.68
31.2 0.757
31.5 0.60
31.8 0.762
32.0 0.796
32.5 0.757
33.0 0.802
33.2 0.789
33.7 0.766
34.0 0.762
34.2 0.713
34.5 0.715
34.7 0.554
34.8 0.591
};
\addlegendentry{Gr-0.2}
\addplot[only marks, mark=ballB, mark size=5.4pt, ballleg] table {
0.24 0.90
0.42 0.998
0.51 0.846
0.51 0.304
0.68 0.48
0.95 0.602
0.95 0.325
1.14 0.304
1.33 0.44
1.6 0.759
1.74 0.797
2.0 0.436
2.05 0.39
2.3 0.318
2.3 0.256
2.5 0.308
2.7 0.433
3.0 0.516
3.05 0.27
3.24 0.193
3.4 0.124
3.6 0.11
3.87 0.096
4.14 0.103
4.5 0.117
4.77 0.138
4.96 0.207
5.15 0.29
5.3 0.332
5.5 0.36
5.6 0.401
6.05 0.367
6.1 0.436
6.5 0.526
6.7 0.568
7.0 0.59
7.2 0.609
7.3 0.637
7.5 0.64
7.7 0.665
7.9 0.63
8.15 0.651
8.3 0.609
8.4 0.554
8.9 0.519
9.05 0.561
9.4 0.623
9.5 0.609
9.9 0.58
10.3 0.578
10.5 0.537
10.7 0.471
10.95 0.429
11.1 0.461
11.5 0.665
11.6 0.581
11.7 0.65
12.05 0.581
12.3 0.581
12.5 0.547
12.6 0.545
12.9 0.484
13.0 0.43
13.3 0.45
13.6 0.43
13.9 0.435
14.3 0.464
14.4 0.5
14.8 0.578
14.96 0.498
15.2 0.457
15.4 0.491
15.7 0.318
15.9 0.315
16.2 0.574
16.3 0.471
16.7 0.387
16.9 0.464
17.1 0.54
17.3 0.498
17.5 0.429
17.7 0.36
17.8 0.274
17.85 0.175
18.05 0.103
18.25 0.096
18.4 0.182
18.6 0.408
18.9 0.39
19.05 0.44
19.2 0.477
19.5 0.517
19.7 0.54
19.9 0.581
20.2 0.609
20.6 0.609
21.0 0.588
21.3 0.60
21.6 0.565
21.7 0.54
22.05 0.623
22.4 0.60
22.7 0.632
22.9 0.651
23.2 0.651
23.3 0.602
23.5 0.561
23.7 0.526
23.9 0.517
24.1 0.54
24.3 0.574
24.56 0.637
24.8 0.609
24.96 0.526
25.3 0.401
25.6 0.45
26.1 0.429
26.3 0.491
26.45 0.573
26.7 0.60
27.0 0.588
27.3 0.568
27.4 0.512
27.6 0.44
27.9 0.387
28.0 0.498
28.2 0.683
28.5 0.651
28.7 0.623
28.97 0.609
29.5 0.665
29.7 0.672
29.8 0.623
30.1 0.591
30.3 0.623
30.6 0.701
30.7 0.678
31.0 0.623
31.3 0.574
31.45 0.477
31.6 0.416
31.7 0.44
31.9 0.526
32.2 0.724
32.4 0.651
32.7 0.547
33.0 0.602
33.1 0.60
33.75 0.605
34.0 0.655
34.2 0.651
34.5 0.685
34.6 0.665
34.85 0.634
};
\addlegendentry{Gr-0.25}
\addplot[cRed, line width=0.8pt, dash pattern=on 5.5pt off 4.7pt, forget plot] coordinates {(0,0.4) (35,0.4)};
\node[font=\fontsize{17.5}{20}\selectfont, anchor=center] at (axis cs:2.18,1.0117) {(b)};
\end{axis}
\end{tikzpicture}
\end{document}
